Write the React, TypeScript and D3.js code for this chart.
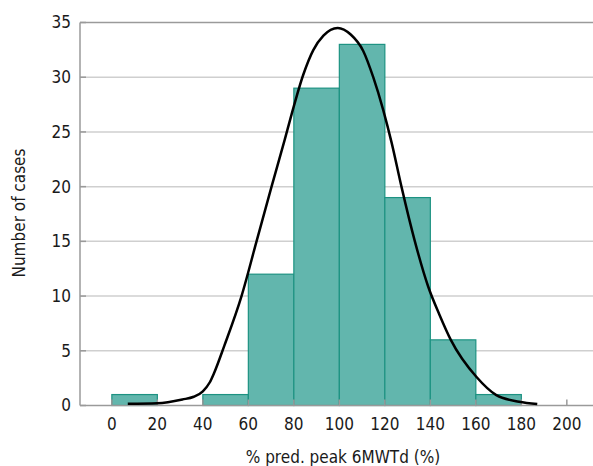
import React, { useEffect, useRef } from "react";
import * as d3 from "d3";

// histogram bins (lower edge) and counts
const binStarts = [0, 20, 40, 60, 80, 100, 120, 140, 160, 180];
const binWidth = 20;
const counts = [1, 0, 1, 12, 29, 33, 19, 6, 1, 0];

// fitted normal curve
const curveX = [7, 20, 31, 36, 40, 43, 45, 49.5, 57, 63.6, 70.2, 76, 79, 84.1, 88.6, 93, 99.3, 105, 110.5, 114.9, 119.3, 123, 127.3, 133.2, 139, 144, 149, 160.3, 169, 179, 187];
const curveY = [0.15, 0.2, 0.55, 0.8, 1.3, 2.1, 3.0, 5.5, 10, 15, 20, 24.3, 26.6, 30.2, 32.5, 33.8, 34.5, 33.9, 32.4, 30, 27, 24, 20, 15, 10.9, 8.3, 6.0, 2.6, 0.95, 0.35, 0.14];

const xTicks = [0, 20, 40, 60, 80, 100, 120, 140, 160, 180, 200];
const yTicks = [0, 5, 10, 15, 20, 25, 30, 35];

const width = 593;
const height = 466;
const margin = { top: 22.5, right: 0, bottom: 60.5, left: 80 };
const font = "'DejaVu Sans Condensed', 'Liberation Sans Narrow', sans-serif";

const App = () => {
  const svgRef = useRef<SVGSVGElement>(null);

  useEffect(() => {
    const svg = d3.select(svgRef.current);
    svg.selectAll("*").remove();

    const x = d3.scaleLinear().domain([-14, 211.5]).range([margin.left, width - margin.right]);
    const y = d3.scaleLinear().domain([0, 35]).range([height - margin.bottom, margin.top]);

    // gridlines
    svg.append("g")
      .selectAll("line")
      .data(yTicks.filter((d) => d > 0 && d < 35))
      .join("line")
      .attr("x1", margin.left)
      .attr("x2", width)
      .attr("y1", (d) => y(d))
      .attr("y2", (d) => y(d))
      .attr("stroke", "#cfcfcf")
      .attr("stroke-width", 1.5);

    // top frame line
    svg.append("line")
      .attr("x1", margin.left).attr("x2", width)
      .attr("y1", y(35)).attr("y2", y(35))
      .attr("stroke", "#9a9a9a").attr("stroke-width", 1.5);

    // bars
    svg.append("g")
      .selectAll("rect")
      .data(binStarts.map((s, i) => ({ s, c: counts[i] })).filter((d) => d.c > 0))
      .join("rect")
      .attr("x", (d) => x(d.s))
      .attr("width", (d) => x(d.s + binWidth) - x(d.s))
      .attr("y", (d) => y(d.c))
      .attr("height", (d) => y(0) - y(d.c))
      .attr("fill", "#62b6ad")
      .attr("stroke", "#1d9282")
      .attr("stroke-width", 1.2);

    // axes lines
    svg.append("line")
      .attr("x1", margin.left).attr("x2", margin.left)
      .attr("y1", y(35)).attr("y2", y(0))
      .attr("stroke", "#9a9a9a").attr("stroke-width", 1.5);
    svg.append("line")
      .attr("x1", margin.left).attr("x2", width)
      .attr("y1", y(0)).attr("y2", y(0))
      .attr("stroke", "#9a9a9a").attr("stroke-width", 1.5);

    // x ticks (inward)
    svg.append("g")
      .selectAll("line")
      .data(xTicks)
      .join("line")
      .attr("x1", (d) => x(d)).attr("x2", (d) => x(d))
      .attr("y1", y(0)).attr("y2", y(0) - 6)
      .attr("stroke", "#9a9a9a").attr("stroke-width", 1.5);

    // y ticks (inward)
    svg.append("g")
      .selectAll("line")
      .data(yTicks)
      .join("line")
      .attr("x1", margin.left).attr("x2", margin.left + 6)
      .attr("y1", (d) => y(d)).attr("y2", (d) => y(d))
      .attr("stroke", "#9a9a9a").attr("stroke-width", 1.5);

    // normal curve
    const line = d3.line<number>()
      .x((d) => x(d))
      .y((_, i) => y(curveY[i]))
      .curve(d3.curveMonotoneX);
    svg.append("path")
      .datum(curveX)
      .attr("d", line)
      .attr("fill", "none")
      .attr("stroke", "#000")
      .attr("stroke-width", 2.5);

    // tick labels
    svg.append("g")
      .selectAll("text")
      .data(xTicks)
      .join("text")
      .attr("x", (d) => x(d))
      .attr("y", 430)
      .attr("text-anchor", "middle")
      .attr("font-family", font)
      .attr("font-size", 17)
      .attr("fill", "#1a1a1a")
      .text((d) => d);

    svg.append("g")
      .selectAll("text")
      .data(yTicks)
      .join("text")
      .attr("x", 71)
      .attr("y", (d) => y(d))
      .attr("dy", "0.35em")
      .attr("text-anchor", "end")
      .attr("font-family", font)
      .attr("font-size", 17)
      .attr("fill", "#1a1a1a")
      .text((d) => d);

    // axis titles
    svg.append("text")
      .attr("x", 343)
      .attr("y", 463)
      .attr("text-anchor", "middle")
      .attr("font-family", font)
      .attr("font-size", 17)
      .attr("fill", "#1a1a1a")
      .text("% pred. peak 6MWTd (%)");

    svg.append("text")
      .attr("transform", "translate(25,213) rotate(-90)")
      .attr("text-anchor", "middle")
      .attr("font-family", font)
      .attr("font-size", 17)
      .attr("fill", "#1a1a1a")
      .text("Number of cases");
  }, []);

  return (
    <svg
      ref={svgRef}
      width={width}
      height={height}
      style={{ position: "absolute", left: 0, top: 0, background: "#fff" }}
    />
  );
};

export default App;
